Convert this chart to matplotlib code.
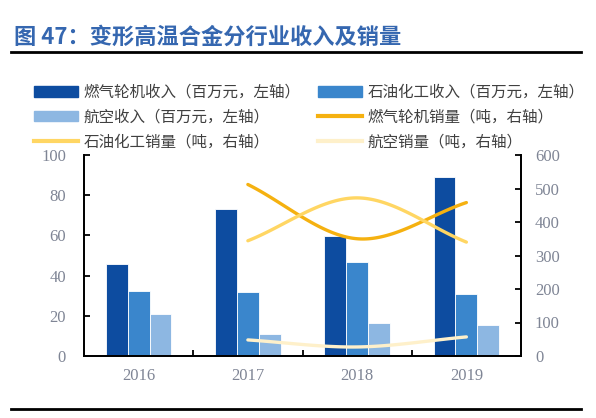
import numpy as np
import matplotlib
matplotlib.use("Agg")
import matplotlib.pyplot as plt
from matplotlib.patches import Patch
from matplotlib.lines import Line2D

plt.rcParams['font.family'] = ['Noto Sans CJK SC', 'DejaVu Sans']

years = ['2016', '2017', '2018', '2019']
gas_rev = [46, 73, 59.5, 89]
petro_rev = [32.5, 32, 47, 31]
avia_rev = [21, 11, 16.5, 15.5]

sales_years = ['2017', '2018', '2019']
gas_sales = [512, 350, 458]
petro_sales = [344, 472, 340]
avia_sales = [48, 27, 57]

c_dark = '#0D4CA0'
c_mid = '#3A86CC'
c_light = '#8DB7E2'
c_orange = '#F5B110'
c_yellow = '#FFD663'
c_cream = '#FEF0CA'
tick_color = '#7F8595'
serif = 'Liberation Serif'


def smooth(xs, ys, n=60):
    """Catmull-Rom style smoothing like Excel's smoothed line"""
    xs = np.asarray(xs, float)
    ys = np.asarray(ys, float)
    pts = np.column_stack([xs, ys])
    ext = np.vstack([pts[0] - (pts[1] - pts[0]), pts, pts[-1] + (pts[-1] - pts[-2])])
    out = []
    for i in range(1, len(ext) - 2):
        p0, p1, p2, p3 = ext[i - 1], ext[i], ext[i + 1], ext[i + 2]
        t = np.linspace(0, 1, n)[:, None]
        seg = 0.5 * ((2 * p1) + (-p0 + p2) * t + (2 * p0 - 5 * p1 + 4 * p2 - p3) * t ** 2
                     + (-p0 + 3 * p1 - 3 * p2 + p3) * t ** 3)
        out.append(seg)
    out = np.vstack(out)
    return out[:, 0], out[:, 1]


fig = plt.figure(figsize=(5.96, 4.18), dpi=100)
ax = fig.add_axes([84 / 596, 1 - 356 / 418, (521 - 84) / 596, (356 - 155) / 418])
ax2 = ax.twinx()

x = np.arange(len(years))
w = 0.2
ax.bar(x - w, gas_rev, w, color=c_dark, edgecolor='white', linewidth=0.6)
ax.bar(x, petro_rev, w, color=c_mid, edgecolor='white', linewidth=0.6)
ax.bar(x + w, avia_rev, w, color=c_light, edgecolor='white', linewidth=0.6)

xs = np.array([years.index(y) for y in sales_years])
for vals, col in [(gas_sales, c_orange), (petro_sales, c_yellow), (avia_sales, c_cream)]:
    sx, sy = smooth(xs, vals)
    ax2.plot(sx, sy, color=col, linewidth=2.4, solid_capstyle='round')

ax.set_xlim(-0.5, 3.5)
ax.set_ylim(0, 100)
ax2.set_ylim(0, 600)
ax.set_yticks(np.arange(0, 101, 20))
ax2.set_yticks(np.arange(0, 601, 100))
ax.set_xticks(x)
ax.set_xticklabels(years)
ax.set_xticks([0.5, 1.5, 2.5], minor=True)

for a in (ax, ax2):
    a.spines['top'].set_visible(False)
    for s in ('left', 'right', 'bottom'):
        a.spines[s].set_linewidth(1.3)
        a.spines[s].set_color('black')

ax.tick_params(axis='x', which='major', length=0, pad=9, labelsize=12, labelcolor=tick_color)
ax.tick_params(axis='x', which='minor', direction='in', length=4, width=1.3)
ax.tick_params(axis='y', direction='in', length=4, width=1.3, pad=13, labelsize=12, labelcolor=tick_color)
ax2.tick_params(axis='y', direction='in', length=4, width=1.3, pad=10, labelsize=12, labelcolor=tick_color)
for lab in ax.get_xticklabels() + ax.get_yticklabels() + ax2.get_yticklabels():
    lab.set_fontfamily(serif)

# title and rules
fig.text(14 / 596, 1 - 37 / 418, '图 47：变形高温合金分行业收入及销量', fontsize=16,
         fontweight='bold', color='#3567B0', va='center', ha='left')
fig.add_artist(Line2D([11 / 596, 581 / 596], [1 - 52 / 418] * 2, color='black', linewidth=2))
fig.add_artist(Line2D([11 / 596, 581 / 596], [1 - 409 / 418] * 2, color='black', linewidth=2))

handles = [
    Patch(color=c_dark), Patch(color=c_light), Line2D([], [], color=c_yellow, lw=3),
    Patch(color=c_mid), Line2D([], [], color=c_orange, lw=3), Line2D([], [], color=c_cream, lw=3),
]
labels = [
    '燃气轮机收入（百万元，左轴）', '航空收入（百万元，左轴）', '石油化工销量（吨，右轴）',
    '石油化工收入（百万元，左轴）', '燃气轮机销量（吨，右轴）', '航空销量（吨，右轴）',
]
fig.legend(handles, labels, ncol=2, loc='upper left', bbox_to_anchor=(26 / 596, 1 - 76 / 418),
           frameon=False, fontsize=11.2, handlelength=2.85, handleheight=0.65,
           handletextpad=0.35, columnspacing=1.1, labelspacing=0.5, borderpad=0,
           labelcolor='#404040')

fig.savefig('out.png', dpi=100)
